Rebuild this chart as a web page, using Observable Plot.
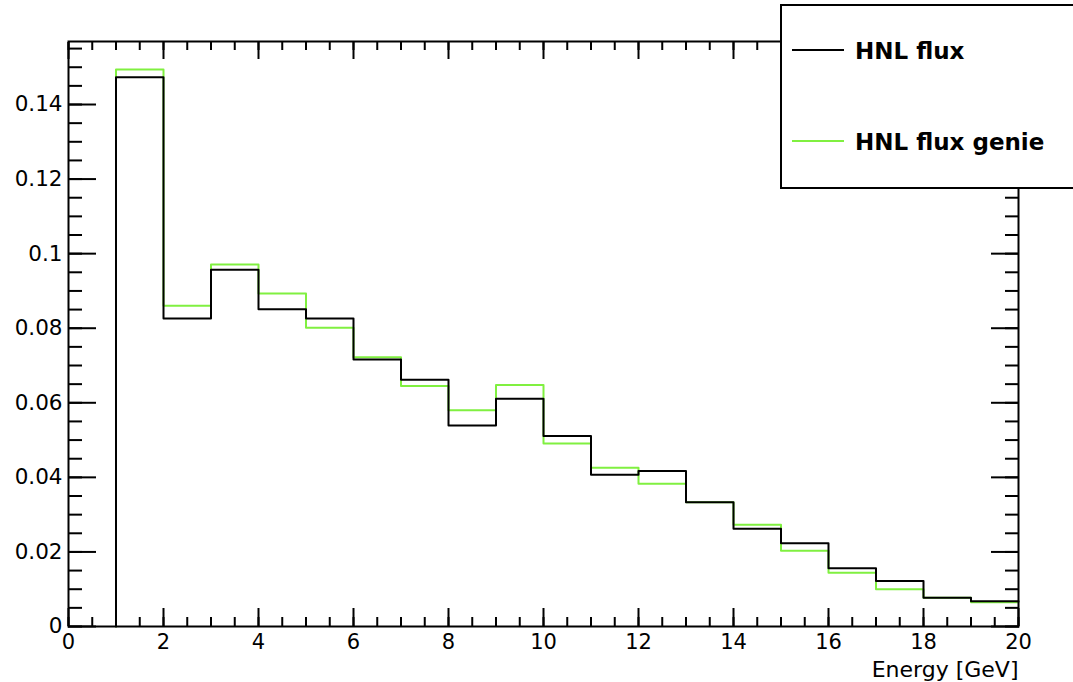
<!DOCTYPE html>
<html>
<head>
<meta charset="utf-8">
<script src="https://cdn.jsdelivr.net/npm/d3@7"></script>
<script src="https://cdn.jsdelivr.net/npm/@observablehq/plot@0.6"></script>
<style>
  html, body { margin: 0; padding: 0; background: #fff; overflow: hidden; }
  #wrap { position: relative; width: 1073px; height: 682px; }
  #legend { position: absolute; left: 780px; top: 4px; width: 310px; height: 181px;
            border: 2px solid #000; background: #fff; box-sizing: content-box; }
</style>
</head>
<body>
<div id="wrap"><div id="legend"></div></div>
<script>
// Bin edges (GeV) and bin contents
const binEdges = [1,2,3,4,5,6,7,8,9,10,11,12,13,14,15,16,17,18,19,20];
const hnlFlux = [0.1473,0.0826,0.0957,0.0851,0.0826,0.0716,0.0662,0.0539,0.0611,0.0511,
                 0.0407,0.0417,0.0333,0.0262,0.0223,0.0156,0.0122,0.0077,0.0068];
const hnlFluxGenie = [0.1494,0.0860,0.0971,0.0893,0.0801,0.0722,0.0645,0.0580,0.0648,0.0491,
                      0.0426,0.0383,0.0333,0.0273,0.0203,0.0144,0.0100,0.0077,0.0065];
const seriesNames = ["HNL flux", "HNL flux genie"];
const seriesColors = ["#000000", "#80f040"];
const xMajorTicks = [0,2,4,6,8,10,12,14,16,18,20];
const xMinorTicks = d3.range(0, 20.001, 0.5);
const yMajorTicks = [0,0.02,0.04,0.06,0.08,0.1,0.12,0.14];
const yMinorTicks = d3.range(0, 0.156, 0.005);
const xTitle = "Energy [GeV]";

function steps(vals) {
  const pts = [{x: binEdges[0], y: 0}];
  vals.forEach((v, i) => pts.push({x: binEdges[i], y: v}));
  pts.push({x: binEdges[binEdges.length - 1], y: vals[vals.length - 1]});
  return pts;
}

const font = "DejaVu Sans";
const chart = Plot.plot({
  width: 1073,
  height: 682,
  marginLeft: 68,
  marginRight: 55,
  marginTop: 41,
  marginBottom: 56,
  style: {fontFamily: font, background: "#fff", color: "#000"},
  x: {domain: [0, 20], label: null},
  y: {domain: [0, 0.1569], label: null},
  marks: [
    // minor & major ticks, inward, on all four sides
    Plot.axisX({anchor: "bottom", ticks: xMinorTicks, tickSize: -9, tickFormat: () => "", strokeWidth: 2, label: null}),
    Plot.axisX({anchor: "bottom", ticks: xMajorTicks, tickSize: -18, tickFormat: () => "", strokeWidth: 2, label: null}),
    Plot.axisX({anchor: "top", ticks: xMinorTicks, tickSize: -8, tickFormat: () => "", strokeWidth: 2, label: null}),
    Plot.axisX({anchor: "top", ticks: xMajorTicks, tickSize: -17, tickFormat: () => "", strokeWidth: 2, label: null}),
    Plot.axisY({anchor: "left", ticks: yMinorTicks, tickSize: -14, tickFormat: () => "", strokeWidth: 2, label: null}),
    Plot.axisY({anchor: "left", ticks: yMajorTicks, tickSize: -28, tickFormat: () => "", strokeWidth: 2, label: null}),
    Plot.axisY({anchor: "right", ticks: yMinorTicks, tickSize: -14, tickFormat: () => "", strokeWidth: 2, label: null}),
    Plot.axisY({anchor: "right", ticks: yMajorTicks, tickSize: -28, tickFormat: () => "", strokeWidth: 2, label: null}),
    // tick labels
    Plot.axisX({anchor: "bottom", ticks: xMajorTicks, tickSize: 0, tickPadding: 8, fontSize: 21, label: null,
                tickFormat: d => String(d)}),
    Plot.axisY({anchor: "left", ticks: yMajorTicks, tickSize: 0, tickPadding: 6, fontSize: 21.5, label: null,
                tickFormat: d => String(+d.toFixed(2))}),
    Plot.text([xTitle], {text: d => d, frameAnchor: "bottom-right", textAnchor: "end", lineAnchor: "bottom",
                         dy: 50, fontSize: 22}),
    // histograms
    Plot.line(steps(hnlFluxGenie), {x: "x", y: "y", curve: "step-after", stroke: seriesColors[1], strokeWidth: 2}),
    Plot.line(steps(hnlFlux), {x: "x", y: "y", curve: "step-after", stroke: seriesColors[0], strokeWidth: 2}),
    Plot.frame({stroke: "#000", strokeWidth: 2})
  ]
});
document.getElementById("wrap").prepend(chart);

// legend (ROOT-style box)
const leg = d3.select("#legend").append("svg").attr("width", 310).attr("height", 181)
  .style("display", "block");
const rows = seriesNames.map((n, i) => ({name: n, color: seriesColors[i], y: i === 0 ? 44 : 135}));
leg.selectAll("line").data(rows).join("line")
  .attr("x1", 10).attr("x2", 62).attr("y1", d => d.y).attr("y2", d => d.y)
  .attr("stroke", d => d.color).attr("stroke-width", 2);
leg.selectAll("text").data(rows).join("text")
  .attr("x", 73).attr("y", d => d.y + 9)
  .attr("font-family", font).attr("font-weight", "bold").attr("font-size", 23)
  .text(d => d.name);
</script>
</body>
</html>
